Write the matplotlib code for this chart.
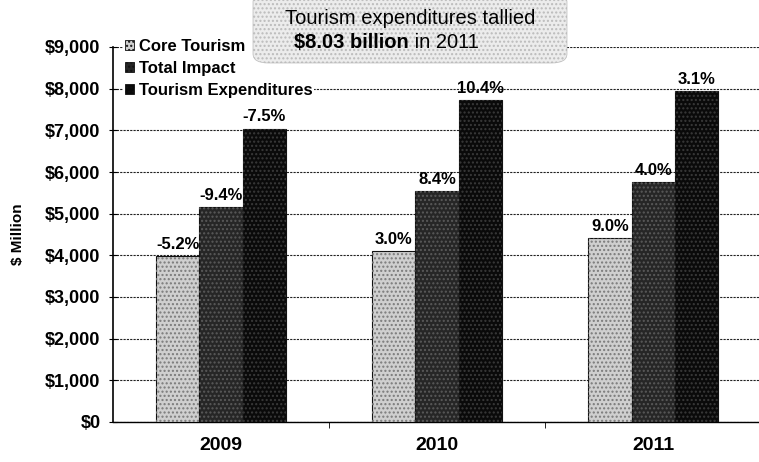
import numpy as np
import matplotlib
matplotlib.use('Agg')
import matplotlib.pyplot as plt
from matplotlib.patches import FancyBboxPatch, Patch

plt.rcParams['font.family'] = ['Liberation Sans', 'DejaVu Sans']

# Data ($ million)
years = ['2009', '2010', '2011']
series = ['Core Tourism', 'Total Impact', 'Tourism Expenditures']
core = [3980, 4110, 4420]
total = [5160, 5540, 5750]
expend = [7040, 7720, 7950]
core_pct = ['-5.2%', '3.0%', '9.0%']
total_pct = ['-9.4%', '8.4%', '4.0%']
expend_pct = ['-7.5%', '10.4%', '3.1%']
yticks = [0, 1000, 2000, 3000, 4000, 5000, 6000, 7000, 8000, 9000]

colors = ['#cfcfcf', '#262626', '#0a0a0a']
hatch_col = ['#7a7a7a', '#5a5a5a', '#3a3a3a']

fig = plt.figure(figsize=(7.59, 4.62), dpi=100)
ax = fig.add_axes([113 / 759, 40 / 462, 646 / 759, 375 / 462])

x = np.arange(len(years))
w = 0.2
values = [core, total, expend]
labels = [core_pct, total_pct, expend_pct]

for i, (vals, labs) in enumerate(zip(values, labels)):
    pos = x + (i - 1) * w
    bars = ax.bar(pos, vals, w, color=colors[i], edgecolor='#111111',
                  linewidth=0.8, zorder=3)
    # grainy texture like the scanned print
    ax.bar(pos, vals, w, fill=False, hatch='....', edgecolor=hatch_col[i],
           linewidth=0, zorder=3)
    for b, lab in zip(bars, labs):
        ax.annotate(lab, (b.get_x() + b.get_width() / 2, b.get_height()),
                    xytext=(0, 3), textcoords='offset points',
                    ha='center', va='bottom', fontsize=12,
                    fontweight='bold', zorder=5)

ax.set_xlim(-0.5, 2.49)
ax.set_ylim(0, 9000)
ax.set_yticks(yticks)
ax.set_yticklabels(['${:,}'.format(v) for v in yticks],
                   fontsize=13, fontweight='bold')
ax.set_xticks(x)
ax.set_xticklabels(years, fontsize=14, fontweight='bold')
ax.set_xticks([0.5, 1.5], minor=True)
ax.tick_params(axis='x', which='major', length=0, pad=11)
ax.tick_params(axis='x', which='minor', length=4, direction='out')
ax.tick_params(axis='y', length=6, direction='inout', pad=6)

ax.grid(axis='y', color='#222222', linestyle=(0, (2, 1)), linewidth=0.8,
        zorder=1)
ax.spines['top'].set_visible(False)
ax.spines['right'].set_visible(False)
ax.spines['left'].set_linewidth(1.2)
ax.spines['bottom'].set_linewidth(1.0)

ax.set_ylabel('$ Million', fontsize=11, fontweight='bold')
ax.yaxis.set_label_coords(-88 / 646, 0.5)

handles = [Patch(facecolor=colors[i], edgecolor='#111111', hatch='....',
                 linewidth=0.6) for i in range(3)]
leg = ax.legend(handles, series, loc='upper left',
                bbox_to_anchor=(123 / 759, 1 - 37 / 462),
                bbox_transform=fig.transFigure, frameon=True,
                handlelength=0.55, handleheight=0.55, handletextpad=0.3,
                labelspacing=0.42, borderpad=0.1, borderaxespad=0,
                prop={'weight': 'bold', 'size': 12})
leg.get_frame().set_facecolor('white')
leg.get_frame().set_edgecolor('none')
leg.get_frame().set_alpha(1)
leg.set_zorder(6)

# title box
box = FancyBboxPatch((253 / 759, 399 / 462), 314 / 759, 70 / 462,
                     boxstyle='round,pad=0,rounding_size=0.02',
                     transform=fig.transFigure, facecolor='#ececec',
                     edgecolor='#bbbbbb', hatch='....', linewidth=0.5,
                     zorder=7)
fig.patches.append(box)
fig.text(410 / 759, 1 - 18 / 462, 'Tourism expenditures tallied',
         ha='center', va='center', fontsize=14.5, zorder=8)
t1 = fig.text(294 / 759, 1 - 42 / 462, '\\$8.03 billion', ha='left',
              va='center', fontsize=14.5, fontweight='bold', zorder=8)
fig.canvas.draw()
bb = t1.get_window_extent()
fig.text(bb.x1 / fig.bbox.width, 1 - 42 / 462, ' in 2011', ha='left',
         va='center', fontsize=14.5, zorder=8)

fig.savefig('out.png', dpi=100)
